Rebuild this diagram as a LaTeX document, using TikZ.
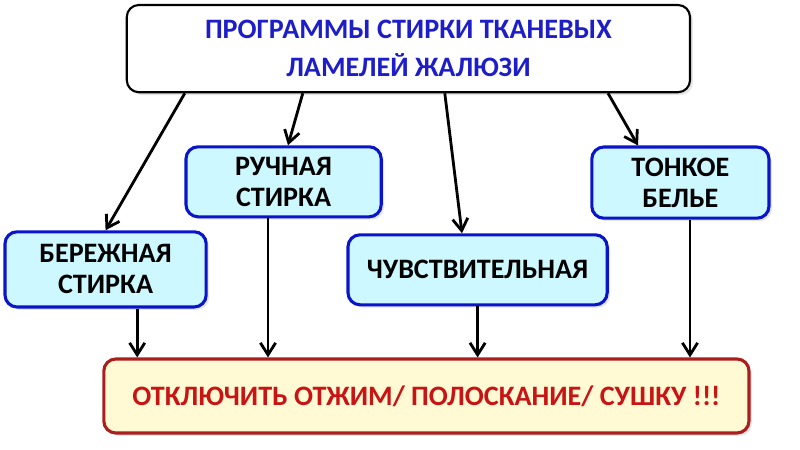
\documentclass[tikz,border=0pt]{standalone}
\usepackage{fontspec}
\setmainfont{Carlito}
\usetikzlibrary{arrows.meta,shadows}
\definecolor{titleblue}{RGB}{30,30,200}
\definecolor{boxblue}{RGB}{10,20,200}
\definecolor{boxfill}{RGB}{205,248,255}
\definecolor{warnred}{RGB}{200,20,20}
\definecolor{warnline}{RGB}{170,30,30}
\definecolor{warnfill}{RGB}{255,250,212}
\tikzset{
  prog/.style={draw=boxblue, line width=2.2pt, fill=boxfill, rounded corners=0.3cm,
    align=center, font=\fontsize{20}{22}\selectfont\bfseries,
    drop shadow={opacity=0.2, shadow xshift=2pt, shadow yshift=-2pt}},
  arr/.style={-{Straight Barb[length=0.3cm,width=0.38cm]}, line width=2pt}
}
\begin{document}
\begin{tikzpicture}
  \useasboundingbox (0,0) rectangle (20,11.225);
  % head box
  \node [draw, line width=1.5pt, fill=white, rounded corners=0.3cm,
    minimum width=14.08cm, minimum height=2.18cm, align=center, text=titleblue,
    font=\fontsize{20}{27}\selectfont\bfseries,
    drop shadow={opacity=0.2, shadow xshift=2pt, shadow yshift=-2pt}]
    (head) at (10.21,10.01) {ПРОГРАММЫ СТИРКИ ТКАНЕВЫХ\\ЛАМЕЛЕЙ ЖАЛЮЗИ};

  % program boxes
  \node [prog, minimum width=4.88cm, minimum height=1.75cm] (hand) at (7.09,6.68) {РУЧНАЯ\\СТИРКА};
  \node [prog, minimum width=4.43cm, minimum height=1.78cm] (fine) at (17.01,6.66) {ТОНКОЕ\\БЕЛЬЕ};
  \node [prog, minimum width=5.03cm, minimum height=1.88cm] (gentle) at (2.64,4.49) {БЕРЕЖНАЯ\\СТИРКА};
  \node [prog, minimum width=6.48cm, minimum height=1.75cm] (sens) at (11.94,4.48) {ЧУВСТВИТЕЛЬНАЯ};

  % warning box
  \node [draw=warnline, line width=2.2pt, fill=warnfill, rounded corners=0.3cm,
    minimum width=16.13cm, minimum height=1.85cm, text=warnred,
    font=\fontsize{20}{22}\selectfont\bfseries,
    drop shadow={opacity=0.2, shadow xshift=2pt, shadow yshift=-2pt}]
    (warn) at (10.66,1.325) {ОТКЛЮЧИТЬ ОТЖИМ/ ПОЛОСКАНИЕ/ СУШКУ !!!};

  % from head to programs
  \draw [arr] ([xshift=-5.59cm]head.south) -- (gentle.north);
  \draw [arr] ([xshift=-2.64cm]head.south) -- ([xshift=0.11cm]hand.north);
  \draw [arr] ([xshift=0.91cm]head.south) -- ([xshift=-0.39cm]sens.north);
  \draw [arr] ([xshift=4.99cm]head.south) -- ([xshift=-1.06cm]fine.north);

  % from programs to warning
  \coordinate (g1) at ([xshift=0.79cm]gentle.south);
  \coordinate (h1) at ([xshift=-0.39cm]hand.south);
  \coordinate (s1) at (sens.south);
  \coordinate (f1) at ([xshift=0.24cm]fine.south);
  \draw [arr] (g1) -- (g1 |- warn.north);
  \draw [arr] (h1) -- (h1 |- warn.north);
  \draw [arr] (s1) -- (s1 |- warn.north);
  \draw [arr] (f1) -- (f1 |- warn.north);
\end{tikzpicture}
\end{document}
